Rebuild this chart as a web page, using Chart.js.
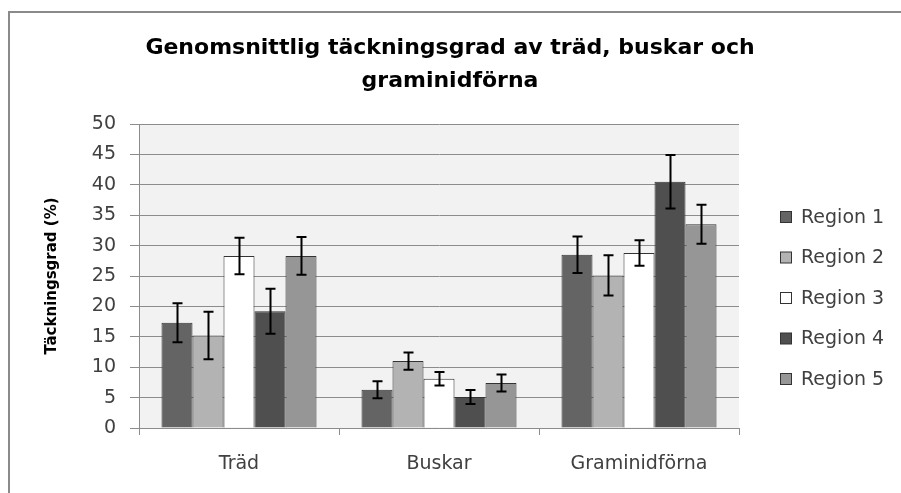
<!DOCTYPE html>
<html>
<head>
<meta charset="utf-8">
<script src="https://cdn.jsdelivr.net/npm/chart.js@4"></script>
<style>
html,body{margin:0;padding:0;background:#fff;}
#wrap{width:901px;height:493px;}
</style>
</head>
<body>
<div id="wrap"><canvas id="c" width="901" height="493"></canvas></div>
<script>
const CATEGORIES=['Träd','Buskar','Graminidförna'];
const SERIES=['Region 1','Region 2','Region 3','Region 4','Region 5'];
const MEANS=[
  [17.3,6.3,28.5],
  [15.2,11.0,25.1],
  [28.3,8.1,28.8],
  [19.2,5.1,40.5],
  [28.3,7.4,33.5]
];
const ERRORS=[
  [3.2,1.4,3.0],
  [3.9,1.4,3.3],
  [3.0,1.1,2.1],
  [3.7,1.15,4.4],
  [3.1,1.4,3.2]
];
const Y_TICKS=[0,5,10,15,20,25,30,35,40,45,50];
const TITLE=['Genomsnittlig täckningsgrad av träd, buskar och','graminidförna'];
const Y_TITLE='Täckningsgrad (%)';

const COLORS=['#646464','#b3b3b3','#ffffff','#4f4f4f','#969696'];
const FONT='"DejaVu Sans", sans-serif';
const TXT='#404040';

const frame={
  id:'frame',
  beforeDraw(ch){
    const {ctx,chartArea:a}=ch;
    ctx.save();
    ctx.fillStyle='#fff';ctx.fillRect(0,0,ch.width,ch.height);
    ctx.strokeStyle='#8a8a8a';ctx.lineWidth=2;
    ctx.beginPath();ctx.moveTo(9,ch.height+2);ctx.lineTo(9,12);ctx.lineTo(ch.width+2,12);ctx.stroke();
    ctx.fillStyle='#f2f2f2';ctx.fillRect(a.left,a.top,a.right-a.left,a.bottom-a.top);
    ctx.restore();
  },
  afterDraw(ch){
    const {ctx,chartArea:a}=ch;
    ctx.save();
    // title
    ctx.fillStyle='#000';ctx.font='bold 22px '+FONT;ctx.textAlign='center';ctx.textBaseline='middle';
    ctx.fillText(TITLE[0],450,48);ctx.fillText(TITLE[1],450,81);
    // y title
    ctx.translate(52,(a.top+a.bottom)/2);ctx.rotate(-Math.PI/2);
    ctx.font='bold 15px '+FONT;ctx.fillText(Y_TITLE,0,0);
    ctx.restore();
    // legend
    ctx.save();
    ctx.font='19px '+FONT;ctx.textBaseline='middle';ctx.textAlign='left';
    ch.data.datasets.forEach((ds,i)=>{
      const y=217+i*40.5;
      ctx.fillStyle=ds.backgroundColor;ctx.fillRect(780.5,y-5.5,11,11);
      ctx.strokeStyle='#333';ctx.lineWidth=1;ctx.strokeRect(780.5,y-5.5,11,11);
      ctx.fillStyle=TXT;ctx.fillText(ds.label,801,y+1);
    });
    ctx.restore();
  }
};

const errorBars={
  id:'errorBars',
  afterDatasetsDraw(ch){
    const {ctx}=ch;const y=ch.scales.y;
    ctx.save();ctx.strokeStyle='#000';ctx.lineWidth=2;
    ch.data.datasets.forEach((ds,i)=>{
      ch.getDatasetMeta(i).data.forEach((bar,j)=>{
        const m=ds.data[j],e=ERRORS[i][j];
        const x=Math.round(bar.x)+0.5,t=y.getPixelForValue(m+e),b=y.getPixelForValue(m-e);
        ctx.beginPath();
        ctx.moveTo(x,t);ctx.lineTo(x,b);
        ctx.moveTo(x-5,t);ctx.lineTo(x+5,t);
        ctx.moveTo(x-5,b);ctx.lineTo(x+5,b);
        ctx.stroke();
      });
    });
    ctx.restore();
  }
};

new Chart(document.getElementById('c'),{
  type:'bar',
  data:{labels:CATEGORIES,datasets:SERIES.map((s,i)=>({label:s,data:MEANS[i],backgroundColor:COLORS[i],borderColor:'#333',borderWidth:1,borderSkipped:'bottom',categoryPercentage:0.775,barPercentage:1}))},
  options:{
    responsive:false,animation:false,
    layout:{padding:{left:0,top:124,right:162,bottom:0}},
    plugins:{legend:{display:false},title:{display:false},tooltip:{enabled:false}},
    scales:{
      y:{min:0,max:50,afterBuildTicks(ax){ax.ticks=Y_TICKS.map(v=>({value:v}));},
        afterFit(ax){ax.width=139;},
        grid:{color:'#8c8c8c',lineWidth:1,tickLength:9},
        border:{color:'#8c8c8c'},
        ticks:{padding:14,color:TXT,font:{family:FONT,size:19}}},
      x:{afterFit(ax){ax.height=65;},
        grid:{drawOnChartArea:false,color:'#8c8c8c',tickLength:7},
        border:{color:'#8c8c8c'},
        ticks:{padding:18,color:TXT,font:{family:FONT,size:19}}}
    }
  },
  plugins:[frame,errorBars]
});
</script>
</body>
</html>
